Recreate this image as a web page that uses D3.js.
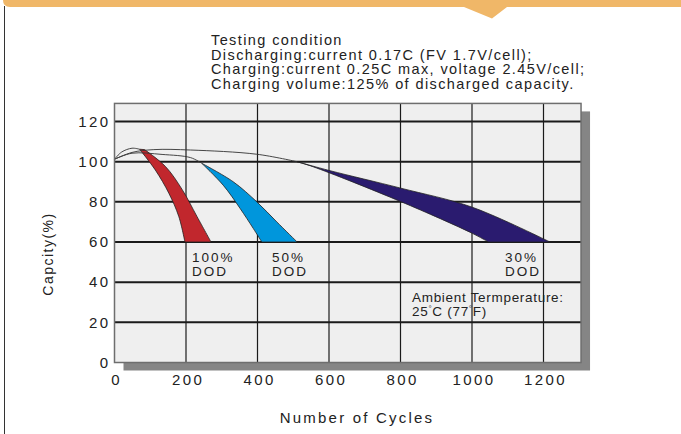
<!DOCTYPE html>
<html>
<head>
<meta charset="utf-8">
<script src="https://cdn.jsdelivr.net/npm/d3@7"></script>
<style>
  body { margin: 0; background: #fff; }
  text { font-family: "Liberation Sans", Arial, sans-serif; fill: #222; }
</style>
</head>
<body>
<script>
// chart values
var yTicks = [0, 20, 40, 60, 80, 100, 120];
var xTicks = [0, 200, 400, 600, 800, 1000, 1200];

var conditionLines = [
  "Testing condition",
  "Discharging:current 0.17C (FV 1.7V/cell);",
  "Charging:current 0.25C max, voltage 2.45V/cell;",
  "Charging volume:125% of discharged capacity."
];

// [cycles, capacity %] - thin lines from the start point to each band
var line100 = [[0, 101.2], [20, 104.8], [49, 106.7], [70, 106.2]];
var line50 = [[0, 101.2], [49, 104.2], [133, 103.6], [213, 102], [244, 99.2]];
var line30 = [[0, 101.2], [49, 104.6], [110, 106], [213, 105.8], [398, 103.7], [510, 100]];

// bands: left (fast fade) edge and right (slow fade) edge
var dod100Left = [[70, 106.2], [114, 95.9], [152, 84.3], [180, 72.6], [197, 60]];
var dod100Right = [[84, 106], [142, 97.7], [189, 86.2], [231, 72.6], [270, 60]];
var dod50Left = [[244, 99.2], [304, 88.3], [351, 76.8], [388, 66.8], [412, 60]];
var dod50Right = [[244, 99.2], [332, 90], [398, 80], [454, 70], [511, 60]];
var dod30Left = [[510, 100], [555, 97.5], [801, 80.1], [1001, 64.3], [1046, 60]];
var dod30Right = [[510, 100], [603, 95.5], [801, 86.8], [1001, 77.3], [1218, 60]];

var bandNames = ["100%", "50%", "30%"];
var bandColors = ["#c1272d", "#0096dc", "#2a1b6f"];

var svgWidth = 681;
var svgHeight = 434;

var svg = d3.select("body")
  .append("svg")
  .attr("width", svgWidth)
  .attr("height", svgHeight);

// orange banner at the top with its little tail
svg.append("path")
  .attr("d", "M0,0 H681 V7 H507 L492,18.5 L464,7 H10 Q3,7 3,0 Z")
  .attr("fill", "#f0b768");

svg.append("line")
  .attr("x1", 4.5).attr("x2", 4.5)
  .attr("y1", 6).attr("y2", svgHeight)
  .attr("stroke", "#333")
  .attr("stroke-width", 1);

// scales
var x = d3.scaleLinear().domain([0, 1200]).range([114.5, 543.5]);
var y = d3.scaleLinear().domain([0, 120]).range([362.5, 121.5]);

var frameRight = x(1305);
var frameTop = y(129);

// drop shadow + plot background
svg.append("rect")
  .attr("x", x(0) + 9).attr("y", frameTop + 8)
  .attr("width", frameRight - x(0)).attr("height", y(0) - frameTop)
  .attr("fill", "#858585");

svg.append("rect")
  .attr("x", x(0)).attr("y", frameTop)
  .attr("width", frameRight - x(0)).attr("height", y(0) - frameTop)
  .attr("fill", "#efefef");

// grid
svg.selectAll(".vgrid")
  .data(xTicks.slice(1))
  .enter()
  .append("line")
  .attr("x1", d => x(d)).attr("x2", d => x(d))
  .attr("y1", frameTop).attr("y2", y(0))
  .attr("stroke", "#1a1a1a")
  .attr("stroke-width", 1.2);

svg.selectAll(".hgrid")
  .data(yTicks.slice(1))
  .enter()
  .append("line")
  .attr("x1", x(0)).attr("x2", frameRight)
  .attr("y1", d => y(d)).attr("y2", d => y(d))
  .attr("stroke", "#1a1a1a")
  .attr("stroke-width", 2);

// curves
var lineGen = d3.line()
  .x(d => x(d[0]))
  .y(d => y(d[1]))
  .curve(d3.curveCatmullRom.alpha(0.5));

function bandPath(left, right) {
  var back = right.slice().reverse();
  return lineGen(left) + lineGen(back).replace(/^M/, "L") + "Z";
}

var bands = [[dod100Left, dod100Right], [dod50Left, dod50Right], [dod30Left, dod30Right]];

svg.selectAll(".band")
  .data(bands)
  .enter()
  .append("path")
  .attr("d", d => bandPath(d[0], d[1]))
  .attr("fill", (d, i) => bandColors[i])
  .attr("stroke", "#222")
  .attr("stroke-width", 0.8);

svg.selectAll(".thin")
  .data([line100, line50, line30])
  .enter()
  .append("path")
  .attr("d", d => lineGen(d))
  .attr("fill", "none")
  .attr("stroke", "#333")
  .attr("stroke-width", 0.9);

// frame
svg.append("rect")
  .attr("x", x(0)).attr("y", frameTop)
  .attr("width", frameRight - x(0)).attr("height", y(0) - frameTop)
  .attr("fill", "none")
  .attr("stroke", "#6e6e6e")
  .attr("stroke-width", 1.5);

// axes (labels only, the grid is drawn above)
var leftAxis = d3.axisLeft(y).tickValues(yTicks).tickSize(0).tickPadding(4)
  .tickFormat(d3.format("d"));
var bottomAxis = d3.axisBottom(x).tickValues(xTicks).tickSize(0).tickPadding(12)
  .tickFormat(d3.format("d"));

var yAxis = svg.append("g")
  .attr("transform", `translate(${x(0)}, 0)`)
  .call(leftAxis);

var xAxis = svg.append("g")
  .attr("transform", `translate(1.5, ${y(0)})`)
  .call(bottomAxis);

[yAxis, xAxis].forEach(function(g) {
  g.select(".domain").remove();
  g.selectAll("text")
    .attr("font-family", "Liberation Sans, Arial, sans-serif")
    .attr("font-size", 15)
    .attr("letter-spacing", 2.4)
    .attr("fill", "#222");
});

// axis titles
svg.append("text")
  .attr("transform", "rotate(-90)")
  .attr("x", -254)
  .attr("y", 53)
  .attr("text-anchor", "middle")
  .attr("font-size", 14)
  .attr("letter-spacing", 1.5)
  .text("Capcity(%)");

svg.append("text")
  .attr("x", 357)
  .attr("y", 423)
  .attr("text-anchor", "middle")
  .attr("font-size", 15)
  .attr("letter-spacing", 2.2)
  .text("Number of Cycles");

// testing condition block
svg.selectAll(".cond")
  .data(conditionLines)
  .enter()
  .append("text")
  .attr("x", 211)
  .attr("y", (d, i) => 45 + i * 14.5)
  .attr("font-size", 14.5)
  .attr("letter-spacing", 1.4)
  .text(d => d);

// DOD labels under each band
var dodLabelX = [192, 272, 505];
bandNames.forEach(function(name, i) {
  var t = svg.append("text")
    .attr("x", dodLabelX[i])
    .attr("y", 262)
    .attr("font-size", 13.5)
    .attr("letter-spacing", 2);
  t.append("tspan").attr("x", dodLabelX[i]).text(name);
  t.append("tspan").attr("x", dodLabelX[i]).attr("dy", 14).text("DOD");
});

// ambient temperature note
svg.append("text")
  .attr("x", 412)
  .attr("y", 302)
  .attr("font-size", 13.5)
  .attr("letter-spacing", 0.7)
  .text("Ambient Termperature:");

var temp = svg.append("text")
  .attr("x", 412)
  .attr("y", 316)
  .attr("font-size", 13.5)
  .attr("letter-spacing", 0.7);
temp.append("tspan").text("25");
temp.append("tspan").attr("font-size", 8).attr("dy", -5).text("°");
temp.append("tspan").attr("dy", 5).text("C (77");
temp.append("tspan").attr("font-size", 8).attr("dy", -5).text("°");
temp.append("tspan").attr("dy", 5).text("F)");
</script>
</body>
</html>
